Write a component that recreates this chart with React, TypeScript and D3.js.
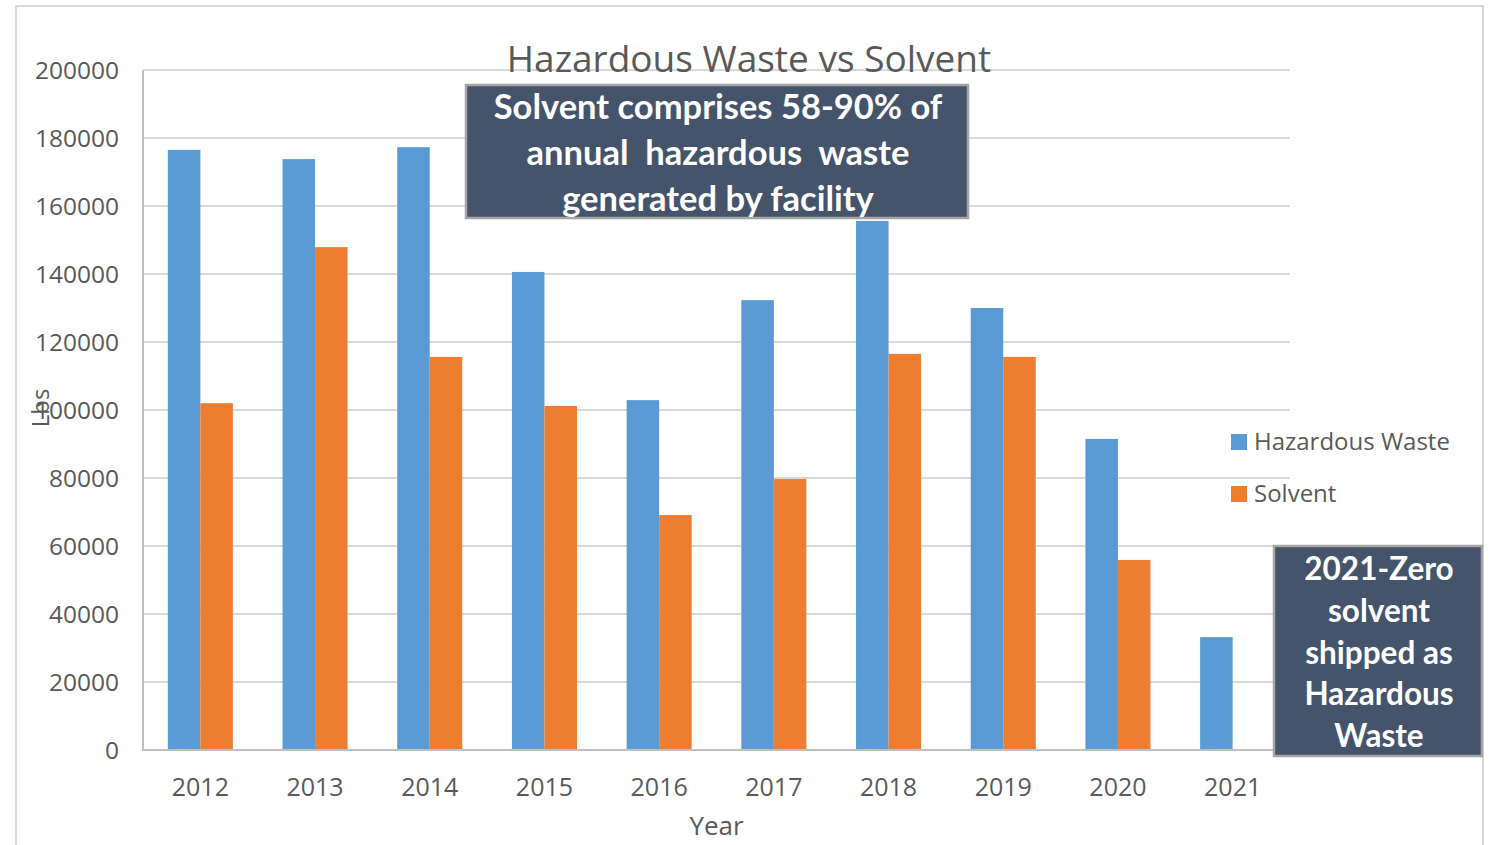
import React from "react";
import { scaleBand, scaleLinear, range } from "d3";

// values (lbs)
const years = ["2012", "2013", "2014", "2015", "2016", "2017", "2018", "2019", "2020", "2021"];
const hazardousWaste = [176500, 173800, 177300, 140600, 102900, 132300, 155600, 130000, 91500, 33200];
const solvent = [102000, 147900, 115600, 101200, 69100, 79700, 116500, 115600, 55900, 0];
const yTicks = range(0, 200001, 20000);
const seriesNames = ["Hazardous Waste", "Solvent"];
const colors = ["#5b9bd5", "#ed7d31"];

const noteTop = ["Solvent comprises 58-90% of", "annual  hazardous  waste", "generated by facility"];
const noteRight = ["2021-Zero", "solvent", "shipped as", "Hazardous", "Waste"];

const W = 1491;
const H = 845;
const plot = { left: 143, right: 1290, top: 70, bottom: 750 };
const textGray = "#595959";
const font = "'Open Sans', sans-serif";
const boldFont = "Lato, sans-serif";

export default function App() {
  const x = scaleBand()
    .domain(years)
    .range([plot.left, plot.right])
    .paddingInner(0.433)
    .paddingOuter(0.2165);
  const sub = scaleBand().domain(seriesNames).range([0, x.bandwidth()]);
  const y = scaleLinear().domain([0, 200000]).range([plot.bottom, plot.top]);

  const series = [hazardousWaste, solvent];

  return (
    <svg
      width={W}
      height={H}
      style={{ position: "absolute", left: 0, top: 0, background: "#fff" }}
    >
      {/* outer chart frame */}
      <rect x={16} y={6} width={1467} height={H + 20} fill="#fff" stroke="#d9d9d9" strokeWidth={2} />

      {/* gridlines */}
      {yTicks.map(t => (
        <line
          key={t}
          x1={plot.left}
          x2={plot.right}
          y1={y(t)}
          y2={y(t)}
          stroke="#d9d9d9"
          strokeWidth={2}
        />
      ))}
      {/* y tick labels */}
      {yTicks.map(t => (
        <text
          key={"l" + t}
          x={119}
          y={y(t)}
          dy="0.35em"
          textAnchor="end"
          fontFamily={font}
          fontSize={24.5}
          fill={textGray}
        >
          {t}
        </text>
      ))}

      {/* bars */}
      {years.map((yr, i) => (
        <g key={yr} transform={`translate(${x(yr)},0)`}>
          {series.map((s, j) => (
            <rect
              key={j}
              x={sub(seriesNames[j])}
              y={y(s[i])}
              width={sub.bandwidth()}
              height={plot.bottom - y(s[i])}
              fill={colors[j]}
            />
          ))}
        </g>
      ))}

      {/* axes */}
      <line x1={plot.left} x2={plot.left} y1={plot.top} y2={plot.bottom + 1} stroke="#bfbfbf" strokeWidth={2} />
      <line x1={plot.left} x2={plot.right} y1={plot.bottom} y2={plot.bottom} stroke="#bfbfbf" strokeWidth={2} />

      {years.map(yr => (
        <text
          key={"x" + yr}
          x={x(yr) + x.bandwidth() / 2}
          y={796}
          textAnchor="middle"
          fontFamily={font}
          fontSize={25}
          fill={textGray}
        >
          {yr}
        </text>
      ))}

      <text
        x={(plot.left + plot.right) / 2}
        y={835}
        textAnchor="middle"
        fontFamily={font}
        fontSize={26}
        fill={textGray}
      >
        Year
      </text>
      <text
        transform="translate(49,408) rotate(-90)"
        textAnchor="middle"
        fontFamily={font}
        fontSize={24}
        fill={textGray}
      >
        Lbs
      </text>

      <text x={749} y={72} textAnchor="middle" fontFamily={font} fontSize={37} fill={textGray}>
        Hazardous Waste vs Solvent
      </text>

      {/* legend */}
      {seriesNames.map((name, j) => (
        <g key={name} transform={`translate(1231,${434 + j * 52})`}>
          <rect width={16} height={16} fill={colors[j]} />
          <text x={23} y={8} dy="0.35em" fontFamily={font} fontSize={24} fill={textGray}>
            {name}
          </text>
        </g>
      ))}

      {/* annotation boxes */}
      <rect x={466} y={85} width={502} height={133} fill="#44546a" stroke="#a5a5a5" strokeWidth={2.5} />
      {noteTop.map((t, i) => (
        <text
          key={t}
          x={718}
          y={107 + i * 46}
          dy="0.35em"
          textAnchor="middle"
          fontFamily={boldFont}
          fontWeight="bold"
          fontSize={34.5}
          fill="#fff"
          style={{ whiteSpace: "pre" }}
        >
          {t}
        </text>
      ))}

      <rect x={1274} y={546} width={208} height={210} fill="#44546a" stroke="#a5a5a5" strokeWidth={2.5} />
      {noteRight.map((t, i) => (
        <text
          key={t}
          x={1379}
          y={569 + i * 41.8}
          dy="0.35em"
          textAnchor="middle"
          fontFamily={boldFont}
          fontWeight="bold"
          fontSize={31.5}
          fill="#fff"
        >
          {t}
        </text>
      ))}
    </svg>
  );
}
